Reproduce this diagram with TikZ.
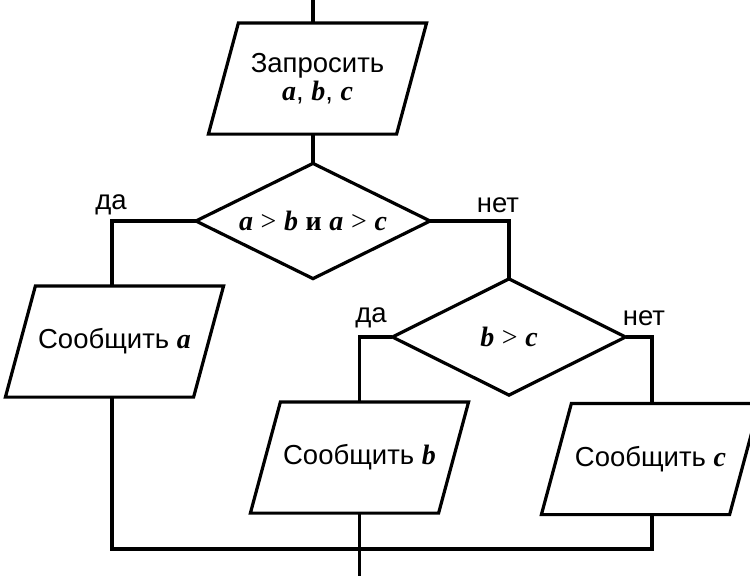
\documentclass[tikz,border=0pt]{standalone}
\usepackage{fontspec}
\setmainfont{Liberation Sans}
\newfontfamily\serifv{Liberation Serif}
\newcommand{\vv}[1]{{\fontsize{28}{30}\selectfont\serifv\bfseries\itshape #1}}
\newcommand{\gtv}{{\fontsize{28}{30}\selectfont\serifv >}}
\begin{document}
\begin{tikzpicture}[x=1pt,y=-1pt,line width=3.2pt,
  font=\fontsize{27.5}{31}\selectfont,
  box/.style={inner sep=0pt,minimum width=215pt,minimum height=108pt,align=center},
  rhomb/.style={inner sep=0pt},
  lbl/.style={inner sep=0pt}]
\useasboundingbox (0,0) rectangle (750,576);

\node[box] (in) at (317.5,78.5) {Запросить\\[-3pt]\vv{a}, \vv{b}, \vv{c}};
\node[rhomb,minimum width=231pt,minimum height=112pt] (d1) at (313,221)
  {\vv{a} \gtv{} \vv{b} {\fontsize{28}{30}\selectfont\serifv\bfseries и} \vv{a} \gtv{} \vv{c}};
\node[box] (pa) at (114.5,341.5) {Сообщить \vv{a}};
\node[rhomb,minimum width=230pt,minimum height=113pt] (d2) at (509,337) {\vv{b} \gtv{} \vv{c}};
\node[box] (pb) at (359.5,457.5) {Сообщить \vv{b}};
\node[box] (pc) at (650.5,459) {Сообщить \vv{c}};

\node[lbl] (y1) at (111,205) {да};
\node[lbl] (n1) at (498,205) {нет};
\node[lbl] (y2) at (371,318) {да};
\node[lbl] (n2) at (644,318) {нет};

\foreach \n in {in,pa,pb,pc}
  \draw (\n.south west) -- ([xshift=30pt]\n.north west) -- (\n.north east)
        -- ([xshift=-30pt]\n.south east) -- cycle;
\foreach \n in {d1,d2}
  \draw (\n.north) -- (\n.east) -- (\n.south) -- (\n.west) -- cycle;

\coordinate (top) at (313,0);
\coordinate (m) at (360,549);
\coordinate (bot) at (360,576);

\draw (top) -- (top |- in.north);
\draw (d1.north |- in.south) -- (d1.north);
\draw (d1.west) -| ([xshift=-2.5pt]pa.north);
\draw (d1.east) -| (d2.north);
\draw (d2.west) -| (pb.north);
\draw (d2.east) -| ([xshift=1.5pt]pc.north);
\draw ([xshift=-2.5pt]pa.south) |- (m) -| ([xshift=1.5pt]pc.south);
\draw (pb.south) -- (pb.south |- bot);
\end{tikzpicture}
\end{document}
